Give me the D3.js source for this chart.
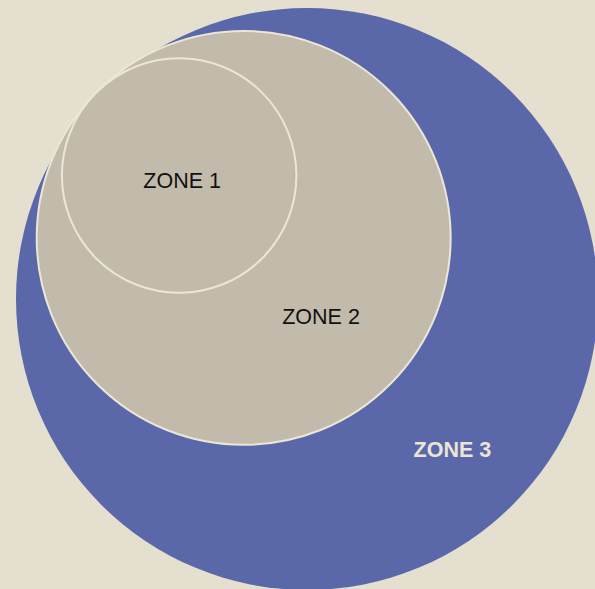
<!DOCTYPE html>
<html>
<head>
    <meta charset="utf-8">
    <script src="https://cdn.jsdelivr.net/npm/d3@7"></script>
    <style>
        body {
            margin: 0;
            background: #e5dfcf;
            overflow: hidden;
        }

        .zone-label {
            font-family: 'Liberation Sans', Arial, sans-serif;
            font-size: 21.5px;
        }
    </style>
</head>
<body>
    <svg id="chart"></svg>
    <script>
        // data
        const zoneNames = ["ZONE 3", "ZONE 2", "ZONE 1"];
        const zoneValues = [85, 43, 13.8];

        const width = 595;
        const height = 589;

        const svg = d3.select("#chart")
            .attr("width", width)
            .attr("height", height);

        let rScale = d3.scaleSqrt()
            .domain([0, d3.max(zoneValues)])
            .range([0, 291]);

        // nested circles, all pushed toward the upper-left
        const outer = { x: 307, y: 299 };
        const angle = 44 * Math.PI / 180;
        const ux = Math.cos(angle), uy = Math.sin(angle);
        const inset = 4;

        let zones = zoneNames.map((name, i) => {
            let r = rScale(zoneValues[i]);
            let off = i === 0 ? 0 : rScale(zoneValues[0]) - r + inset;
            return {
                name: name,
                r: r,
                x: outer.x - off * ux,
                y: outer.y - off * uy
            };
        });

        svg.selectAll(".zone")
            .data(zones)
            .enter().append("circle")
            .attr("class", "zone")
            .attr("cx", d => d.x)
            .attr("cy", d => d.y)
            .attr("r", d => d.r)
            .style("fill", (d, i) => i === 0 ? "#5a68aa" : "#c2bbac")
            .style("stroke", (d, i) => i === 0 ? "none" : "#ece6d6")
            .style("stroke-width", 2);

        // labels sit in the middle of each band along the diagonal
        function farPoint(d) {
            return [d.x + d.r * ux, d.y + d.r * uy];
        }

        const nudge = [[-2, 8], [-7, -3], [3, 5]];

        zones.forEach((d, i) => {
            if (i === zones.length - 1) {
                d.lx = d.x;
                d.ly = d.y;
            } else {
                let a = farPoint(d), b = farPoint(zones[i + 1]);
                d.lx = (a[0] + b[0]) / 2;
                d.ly = (a[1] + b[1]) / 2;
            }
            d.lx += nudge[i][0];
            d.ly += nudge[i][1];
        });

        svg.selectAll(".zone-label")
            .data(zones)
            .enter().append("text")
            .attr("class", "zone-label")
            .attr("x", d => d.lx)
            .attr("y", d => d.ly)
            .attr("dy", "0.35em")
            .attr("text-anchor", "middle")
            .style("font-weight", (d, i) => i === 0 ? "bold" : "normal")
            .style("fill", (d, i) => i === 0 ? "#ebe5d5" : "#111")
            .text(d => d.name);
    </script>
</body>
</html>
